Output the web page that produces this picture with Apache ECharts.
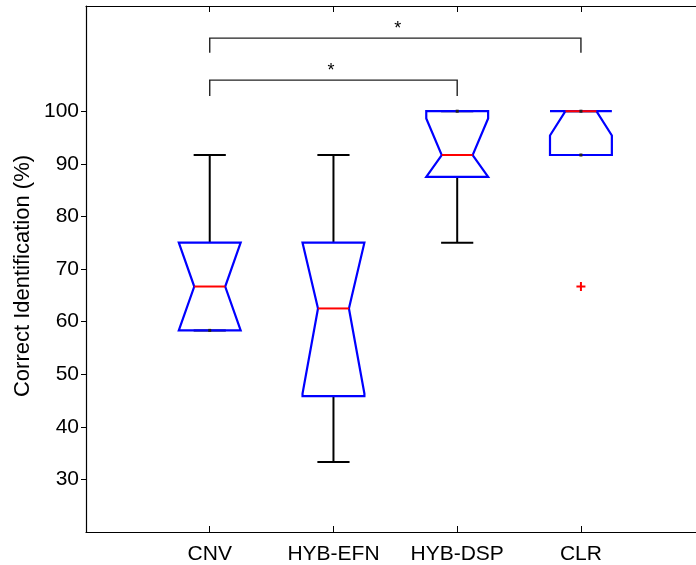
<!DOCTYPE html>
<html>
<head>
<meta charset="utf-8">
<script src="https://cdn.jsdelivr.net/npm/echarts@6/dist/echarts.min.js"></script>
<style>
  html, body { margin: 0; padding: 0; background: #ffffff; }
  #chart { width: 696px; height: 565px; }
</style>
</head>
<body>
<div id="chart"></div>
<script>
// Group labels and five-number summaries (percent correct), n recordings per group
const categories  = ['CNV', 'HYB-EFN', 'HYB-DSP', 'CLR'];
const whiskerLow  = [58.33, 33.33, 75.00, 91.67];
const quartile1   = [58.33, 45.83, 87.50, 91.67];
const medians     = [66.67, 62.50, 91.67, 100.00];
const quartile3   = [75.00, 75.00, 100.00, 100.00];
const whiskerHigh = [91.67, 91.67, 100.00, 100.00];
const sampleSize  = [8, 8, 8, 8];

// Outliers: [group number (1-based), value]
const outlierPoints = [[4, 66.67]];

// Y axis tick labels
const yTickValues = [30, 40, 50, 60, 70, 80, 90, 100];

// Significance brackets: group pairs, leg bottom / bar height (in %), marker text and its x
const bracketPairs  = [[1, 3], [1, 4]];
const bracketLegs   = [102.9, 111.1];
const bracketBars   = [105.9, 113.9];
const bracketMarks  = ['*', '*'];
const bracketMarkX  = [1.98, 2.52];

const FONT = '"Liberation Sans", Arial, Helvetica, sans-serif';

const boxData = categories.map((c, i) => [
  i + 1, whiskerLow[i], quartile1[i], medians[i], quartile3[i], whiskerHigh[i], sampleSize[i]
]);
const bracketData = bracketPairs.map((p, i) => [p[0], p[1], bracketLegs[i], bracketBars[i], bracketMarkX[i], i]);

// Notched box in the classic style: notch half-height 1.57*IQR/sqrt(n), clipped to the box
function renderBox(params, api) {
  const x = api.value(0), lo = api.value(1), a = api.value(2), m = api.value(3),
        b = api.value(4), hi = api.value(5), n = api.value(6);
  const half = 0.25, notchHalf = 0.125, capHalf = 0.13;
  const notch = 1.57 * (b - a) / Math.sqrt(n);
  const nhi = Math.min(m + notch, b);
  const nlo = Math.max(m - notch, a);
  const P = (u, v) => api.coord([u, v]);
  const black = { stroke: '#000', lineWidth: 2, fill: null };
  const seg = (u1, v1, u2, v2, style) => {
    const s = P(u1, v1), e = P(u2, v2);
    return { type: 'line', shape: { x1: s[0], y1: s[1], x2: e[0], y2: e[1] }, style };
  };
  const children = [];
  // whiskers and caps
  children.push(seg(x, b, x, hi, black));
  children.push(seg(x, a, x, lo, black));
  children.push(seg(x - capHalf, hi, x + capHalf, hi, black));
  children.push(seg(x - capHalf, lo, x + capHalf, lo, black));
  // box outline
  const pts = [
    P(x - half, b), P(x - half, nhi), P(x - notchHalf, m), P(x - half, nlo), P(x - half, a),
    P(x + half, a), P(x + half, nlo), P(x + notchHalf, m), P(x + half, nhi), P(x + half, b)
  ];
  children.push({ type: 'polygon', shape: { points: pts }, style: { stroke: '#0000ff', lineWidth: 2.2, fill: null, lineJoin: 'miter' } });
  // median
  children.push(seg(x - notchHalf, m, x + notchHalf, m, { stroke: '#ff0000', lineWidth: 2 }));
  // whisker ends that coincide with the box edge show as a small dark dot
  [[hi, b], [lo, a]].forEach(([w, edge]) => {
    if (w === edge) {
      const c = P(x, w);
      children.push({ type: 'rect', shape: { x: c[0] - 1.5, y: c[1] - 1.5, width: 3, height: 3 }, style: { fill: '#222' } });
    }
  });
  return { type: 'group', children };
}

function renderOutlier(params, api) {
  const c = api.coord([api.value(0), api.value(1)]);
  const r = 4.5;
  const st = { stroke: '#ff0000', lineWidth: 2 };
  return { type: 'group', children: [
    { type: 'line', shape: { x1: c[0] - r, y1: c[1], x2: c[0] + r, y2: c[1] }, style: st },
    { type: 'line', shape: { x1: c[0], y1: c[1] - r, x2: c[0], y2: c[1] + r }, style: st }
  ]};
}

function renderBracket(params, api) {
  const from = api.value(0), to = api.value(1), leg = api.value(2), bar = api.value(3);
  const markX = api.value(4), idx = api.value(5);
  const p1 = api.coord([from, leg]), p2 = api.coord([from, bar]);
  const p3 = api.coord([to, bar]), p4 = api.coord([to, leg]);
  const mark = api.coord([markX, bar]);
  return { type: 'group', children: [
    { type: 'polyline', shape: { points: [p1, p2, p3, p4] }, style: { stroke: '#222', lineWidth: 1.4, fill: null } },
    { type: 'text', x: mark[0], y: mark[1] - 9, style: {
        text: bracketMarks[idx], fill: '#000', font: '18px ' + FONT, align: 'center', verticalAlign: 'middle'
    } }
  ]};
}

const chart = echarts.init(document.getElementById('chart'), null, { renderer: 'canvas' });

const xTickValues = categories.map((c, i) => i + 1);

chart.setOption({
  animation: false,
  backgroundColor: '#ffffff',
  grid: { left: 86, right: 0, top: 6, bottom: 33, containLabel: false },
  xAxis: [
    {
      type: 'value', min: 0, max: 4.93, position: 'bottom',
      axisLine: { show: true, lineStyle: { color: '#000', width: 1.2 } },
      axisTick: { show: true, inside: true, length: 6, customValues: xTickValues, lineStyle: { color: '#000' } },
      axisLabel: {
        show: true, customValues: xTickValues, margin: 12,
        formatter: v => categories[Math.round(v) - 1] || '',
        color: '#000', fontSize: 21, fontFamily: FONT
      },
      splitLine: { show: false }
    },
    {
      type: 'value', min: 0, max: 4.93, position: 'top',
      axisLine: { show: true, lineStyle: { color: '#000', width: 1.2 } },
      axisTick: { show: true, inside: true, length: 6, customValues: xTickValues, lineStyle: { color: '#000' } },
      axisLabel: { show: false },
      splitLine: { show: false }
    }
  ],
  yAxis: {
    type: 'value', min: 20, max: 120, interval: 10,
    axisLine: { show: true, lineStyle: { color: '#000', width: 1.2 } },
    axisTick: { show: true, inside: false, length: 5, customValues: yTickValues, lineStyle: { color: '#000' } },
    axisLabel: { show: true, customValues: yTickValues, margin: 7, color: '#000', fontSize: 21, fontFamily: FONT },
    splitLine: { show: false }
  },
  graphic: [{
    type: 'text', x: 23, y: 276, rotation: Math.PI / 2,
    style: { text: 'Correct Identification (%)', fill: '#000', font: '22px ' + FONT, align: 'center', verticalAlign: 'middle' }
  }],
  series: [
    { type: 'custom', name: 'brackets', xAxisIndex: 0, yAxisIndex: 0, renderItem: renderBracket, data: bracketData, clip: false, z: 3 },
    { type: 'custom', name: 'boxes', xAxisIndex: 0, yAxisIndex: 0, renderItem: renderBox, data: boxData, z: 4 },
    { type: 'custom', name: 'outliers', xAxisIndex: 0, yAxisIndex: 0, renderItem: renderOutlier, data: outlierPoints, z: 5 }
  ]
});
</script>
</body>
</html>
